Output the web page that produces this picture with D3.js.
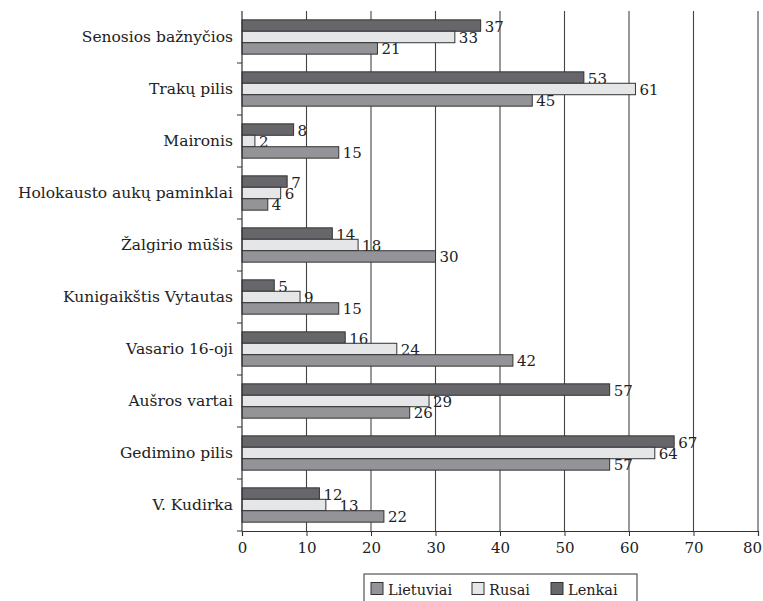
<!DOCTYPE html>
<html>
<head>
<meta charset="utf-8">
<script src="https://cdn.jsdelivr.net/npm/d3@7"></script>
<style>
  body { margin: 0; background: #fff; }
</style>
</head>
<body>
<div id="vis"></div>
<script>
// Data
const categories = ['Senosios bažnyčios', 'Trakų pilis', 'Maironis', 'Holokausto aukų paminklai',
  'Žalgirio mūšis', 'Kunigaikštis Vytautas', 'Vasario 16-oji', 'Aušros vartai', 'Gedimino pilis', 'V. Kudirka'];
const series = ['Lenkai', 'Rusai', 'Lietuviai'];   // top-to-bottom order inside a group
const lenkai    = [37, 53, 8, 7, 14, 5, 16, 57, 67, 12];
const rusai     = [33, 61, 2, 6, 18, 9, 24, 29, 64, 13];
const lietuviai = [21, 45, 15, 4, 30, 15, 42, 26, 57, 22];
const xTicks = [0, 10, 20, 30, 40, 50, 60, 70, 80];
const legendOrder = ['Lietuviai', 'Rusai', 'Lenkai'];

const values = { Lenkai: lenkai, Rusai: rusai, Lietuviai: lietuviai };
const colors = { Lenkai: '#67676b', Rusai: '#e5e6e8', Lietuviai: '#949498' };
const FONT = "'DejaVu Serif', serif";

const W = 763, H = 601;
const margin = { top: 11, left: 242 };
const width = 758 - margin.left;
const height = 520;

const svg = d3.select('#vis').append('svg')
    .attr('width', W).attr('height', H)
    .style('font-family', FONT);
const g = svg.append('g').attr('transform', `translate(${margin.left},${margin.top})`);

const x = d3.scaleLinear().domain([0, 80]).range([0, width]);
const y = d3.scaleBand().domain(categories).range([0, height]).paddingInner(0.34).paddingOuter(0.17);
const yInner = d3.scaleBand().domain(series).range([0, y.bandwidth()]);
const band = height / categories.length;

// gridlines
g.selectAll('.grid').data(xTicks.slice(1)).enter().append('line')
    .attr('x1', d => x(d)).attr('x2', d => x(d))
    .attr('y1', 0).attr('y2', height)
    .attr('stroke', '#444').attr('stroke-width', 1.1);

// bars
const rows = categories.map((c, i) => ({ c, i }));
const groups = g.selectAll('.grp').data(rows).enter().append('g')
    .attr('transform', d => `translate(0,${y(d.c)})`);

groups.each(function (r) {
  const sel = d3.select(this);
  let prevX = -100, prevV = 0;
  series.forEach(s => {
    const v = values[s][r.i];
    sel.append('rect')
        .attr('x', x(0)).attr('y', yInner(s))
        .attr('width', x(v) - x(0)).attr('height', yInner.bandwidth())
        .attr('fill', colors[s]).attr('stroke', '#333').attr('stroke-width', 1);
    // nudge a two-digit label right if it sits right under another two-digit label
    let lx = x(v) + 4;
    if (v >= 10 && prevV >= 10 && Math.abs(lx - prevX) < 12) lx = prevX + 16;
    prevX = lx; prevV = v;
    sel.append('text')
        .attr('x', lx).attr('y', yInner(s) + yInner.bandwidth() / 2 + 2)
        .attr('dominant-baseline', 'middle')
        .attr('fill', '#222')
        .style('font-family', FONT)
        .style('font-size', '15px')
        .text(v);
  });
});

// left axis line with band ticks
g.append('line').attr('x1', 0).attr('x2', 0).attr('y1', 0).attr('y2', height)
    .attr('stroke', '#333').attr('stroke-width', 1.2);
g.selectAll('.ytick').data(d3.range(1, categories.length + 1)).enter().append('line')
    .attr('x1', -5).attr('x2', 0)
    .attr('y1', d => d * band).attr('y2', d => d * band)
    .attr('stroke', '#333');
g.selectAll('.ylab').data(categories).enter().append('text')
    .attr('x', -9).attr('y', d => y(d) + y.bandwidth() / 2 + 1)
    .attr('text-anchor', 'end').attr('dominant-baseline', 'middle')
    .attr('fill', '#222')
    .style('font-family', FONT)
    .style('font-size', '15.5px')
    .text(d => d);

// bottom axis
const xAxis = g.append('g').attr('transform', `translate(0,${height})`)
    .call(d3.axisBottom(x).tickValues(xTicks).tickSize(5).tickPadding(6));
xAxis.attr('font-family', null);
xAxis.select('.domain').attr('stroke', '#333').attr('stroke-width', 1.2);
xAxis.selectAll('.tick line').attr('stroke', '#333');
xAxis.selectAll('text').style('font-size', '15px')
    .style('font-family', FONT).attr('fill', '#222')
    .attr('dx', d => d === 80 ? -6 : 0);

// legend
const leg = svg.append('g').attr('transform', 'translate(364,574)');
leg.append('rect').attr('x', 0).attr('y', 0).attr('width', 273).attr('height', 40)
    .attr('fill', 'none').attr('stroke', '#333');
const legX = [7, 108, 187];
legendOrder.forEach((s, i) => {
  leg.append('rect').attr('x', legX[i]).attr('y', 8.5).attr('width', 12).attr('height', 12)
      .attr('fill', colors[s]).attr('stroke', '#333');
  leg.append('text').attr('x', legX[i] + 17).attr('y', 20.5)
      .attr('fill', '#222')
      .style('font-family', FONT)
      .style('font-size', '14.5px').text(s);
});
</script>
</body>
</html>
